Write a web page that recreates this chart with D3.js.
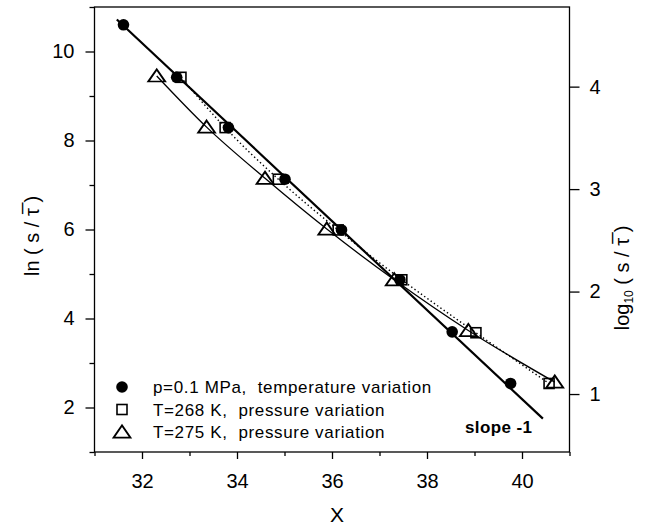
<!DOCTYPE html>
<html>
<head>
<meta charset="utf-8">
<script src="https://cdn.jsdelivr.net/npm/d3@7"></script>
<style>
  body { margin: 0; background: #fff; }
  text { font-family: "Liberation Sans", Arial, Helvetica, sans-serif; fill: #000; white-space: pre; }
</style>
</head>
<body>
<svg width="651" height="525"></svg>
<script>
// data
const tempX = [31.61, 32.73, 33.82, 35.01, 36.20, 37.43, 38.53, 39.76];
const tempY = [10.60, 9.42, 8.29, 7.13, 5.99, 4.87, 3.70, 2.54];
const p268X = [32.82, 33.75, 34.87, 36.13, 37.47, 39.03, 40.57];
const p268Y = [9.42, 8.29, 7.13, 5.99, 4.87, 3.68, 2.54];
const p275X = [32.31, 33.36, 34.59, 35.89, 37.31, 38.87, 40.69];
const p275Y = [9.45, 8.30, 7.15, 6.01, 4.87, 3.73, 2.57];
const slopeX = [31.47, 40.44];
const slopeY = [10.72, 1.75];

const xMajor = [32, 34, 36, 38, 40];
const xMinor = [31, 33, 35, 37, 39, 41];
const yMajor = [2, 4, 6, 8, 10];
const yMinor = [1, 3, 5, 7, 9, 11];
const rightTicks = [1, 2, 3, 4];

const legendLabels = [
    "p=0.1 MPa,  temperature variation",
    "T=268 K,  pressure variation",
    "T=275 K,  pressure variation"
];

const zip = (xs, ys) => xs.map((v, i) => ({ x: v, y: ys[i] }));
const temp = zip(tempX, tempY);
const p268 = zip(p268X, p268Y);
const p275 = zip(p275X, p275Y);
const slope = zip(slopeX, slopeY);

const plotL = 94.5, plotR = 569.5, plotT = 7, plotB = 452;

const x = d3.scaleLinear().domain([31, 41]).range([plotL, plotR]);
const y = d3.scaleLinear().domain([1, 11]).range([plotB, plotT]);
const yRight = d3.scaleLinear().domain([1 / Math.LN10, 11 / Math.LN10]).range([plotB, plotT]);

const svg = d3.select('svg');

// frame
svg.append('rect')
    .attr('x', plotL).attr('y', plotT)
    .attr('width', plotR - plotL).attr('height', plotB - plotT)
    .attr('fill', 'none').attr('stroke', '#000').attr('stroke-width', 1.3);

// axes
const styleAxis = (g) => {
    g.select('.domain').remove();
    g.selectAll('line').attr('stroke', '#000').attr('stroke-width', 1.3);
    g.selectAll('text').attr('font-size', 20).attr('font-family', '"Liberation Sans", Arial, sans-serif');
};

svg.append('g').attr('transform', `translate(${plotL},0)`)
    .call(d3.axisLeft(y).tickValues(yMajor).tickSize(9).tickPadding(11).tickFormat(d3.format('d')))
    .call(styleAxis);
svg.append('g').attr('transform', `translate(${plotL},0)`)
    .call(d3.axisLeft(y).tickValues(yMinor).tickSize(5).tickFormat(''))
    .call(styleAxis);

svg.append('g').attr('transform', `translate(0,${plotB})`)
    .call(d3.axisBottom(x).tickValues(xMajor).tickSize(7).tickPadding(15).tickFormat(d3.format('d')))
    .call(styleAxis);
svg.append('g').attr('transform', `translate(0,${plotB})`)
    .call(d3.axisBottom(x).tickValues(xMinor).tickSize(4).tickFormat(''))
    .call(styleAxis);

svg.append('g').attr('transform', `translate(${plotR},0)`)
    .call(d3.axisRight(yRight).tickValues(rightTicks).tickSize(10).tickPadding(10).tickFormat(d3.format('d')))
    .call(styleAxis);

// axis titles
svg.append('text')
    .attr('x', (plotL + plotR) / 2 + 5).attr('y', 522)
    .attr('text-anchor', 'middle').attr('font-size', 21)
    .text('X');

svg.append('text')
    .attr('transform', 'translate(39,236) rotate(-90)')
    .attr('text-anchor', 'middle').attr('font-size', 20)
    .text('ln ( s / \u03C4\u0305 )');

const rt = svg.append('text')
    .attr('transform', 'translate(629,278) rotate(-90)')
    .attr('text-anchor', 'middle').attr('font-size', 20);
rt.append('tspan').text('log');
rt.append('tspan').attr('font-size', 12).attr('dy', 4).text('10');
rt.append('tspan').attr('dy', -4).text(' ( s / \u03C4\u0305 )');

// lines
const line = d3.line().x(d => x(d.x)).y(d => y(d.y));
const curve = d3.line().x(d => x(d.x)).y(d => y(d.y)).curve(d3.curveMonotoneX);

svg.append('path').datum(slope).attr('d', line)
    .attr('fill', 'none').attr('stroke', '#000').attr('stroke-width', 2.2);
svg.append('path').datum(p275).attr('d', curve)
    .attr('fill', 'none').attr('stroke', '#000').attr('stroke-width', 1.3);
svg.append('path').datum(p268).attr('d', curve)
    .attr('fill', 'none').attr('stroke', '#000').attr('stroke-width', 1.4)
    .attr('stroke-dasharray', '1.4,2.6');

// markers
const tri = d3.symbol().type(d3.symbolTriangle).size(85);

function drawCircle(g, cx, cy) {
    g.append('circle').attr('cx', cx).attr('cy', cy).attr('r', 5.8).attr('fill', '#000');
}
function drawSquare(g, cx, cy) {
    g.append('rect').attr('x', cx - 5).attr('y', cy - 5).attr('width', 10).attr('height', 10)
        .attr('fill', 'none').attr('stroke', '#000').attr('stroke-width', 1.6);
}
function drawTriangle(g, cx, cy) {
    g.append('path').attr('d', tri).attr('transform', `translate(${cx},${cy + 1.5}) scale(1.2,1)`)
        .attr('fill', 'none').attr('stroke', '#000').attr('stroke-width', 1.7);
}

const marks = svg.append('g');
temp.forEach(d => drawCircle(marks, x(d.x), y(d.y)));
p268.forEach(d => drawSquare(marks, x(d.x), y(d.y)));
p275.forEach(d => drawTriangle(marks, x(d.x), y(d.y)));

// legend
const legendY = [387, 409.5, 432];
const legendDraw = [drawCircle, drawSquare, drawTriangle];
legendLabels.forEach((lab, i) => {
    legendDraw[i](svg, 122, legendY[i]);
    svg.append('text')
        .attr('x', 153).attr('y', legendY[i] + 6.3)
        .attr('font-size', 17).attr('letter-spacing', 0.65)
        .text(lab);
});

svg.append('text')
    .attr('x', 465).attr('y', 433)
    .attr('font-size', 17).attr('font-weight', 'bold').attr('letter-spacing', 0.4)
    .text('slope -1');
</script>
</body>
</html>
